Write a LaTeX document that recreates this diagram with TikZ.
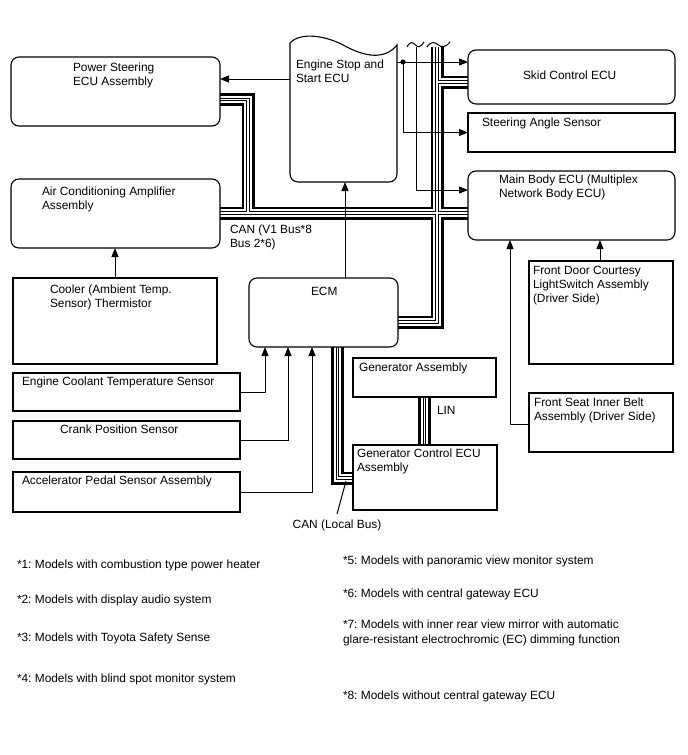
\documentclass[tikz,border=0pt]{standalone}
\usepackage{fontspec}
\setmainfont{Liberation Sans}
\usetikzlibrary{arrows.meta}
\pgfdeclarelayer{bg}
\pgfsetlayers{bg,main}
\frenchspacing
\tikzset{
 box/.style={draw, line width=1.1pt, fill=white, inner sep=0pt, outer sep=0pt, anchor=north west},
 rbox/.style={box, rounded corners=8pt},
 txt/.style={inner sep=0pt, outer sep=0pt, anchor=north west, align=left, font=\fontsize{11.9}{14}\selectfont},
 fn/.style={inner sep=0pt, outer sep=0pt, anchor=base west, font=\fontsize{11.9}{14.5}\selectfont},
 arr/.style={line width=1pt, -{Triangle[length=9pt,width=7pt]}},
 wire/.style={line width=1pt},
}
\begin{document}
\begin{tikzpicture}[x=1pt,y=-1pt]
\useasboundingbox (0,0) rectangle (688,755);

% boxes
\node[rbox, minimum width=209pt, minimum height=69pt] (ps) at (11,57) {};
\node[rbox, minimum width=209pt, minimum height=69pt] (ac) at (11,179) {};
\node[box, minimum width=204pt, minimum height=86pt] (cooler) at (13,278) {};
\node[inner sep=0pt, outer sep=0pt, minimum width=107pt, minimum height=140pt, anchor=north west] (ess) at (290,42) {};
\draw[line width=1.1pt, fill=white] (290,100) [rounded corners=8pt] -- (290,182) -- (397,182) -- (397,120) [sharp corners] -- (397,45)
  .. controls (385,60) and (365,57) .. (345,46) .. controls (325,35) and (300,32) .. (290,43) -- cycle;
\node[rbox, minimum width=149pt, minimum height=69pt] (ecm) at (249,278) {};
\node[rbox, minimum width=207pt, minimum height=54pt] (skid) at (468,50) {};
\node[box, minimum width=207pt, minimum height=39pt] (sas) at (468,113) {};
\node[rbox, minimum width=207pt, minimum height=69pt] (mb) at (468,171) {};
\node[box, minimum width=144pt, minimum height=103pt] (fd) at (529,261) {};
\node[box, minimum width=144pt, minimum height=59pt] (fs) at (529,393) {};
\node[box, minimum width=227pt, minimum height=38pt] (ect) at (13,373) {};
\node[box, minimum width=227pt, minimum height=38pt] (crank) at (13,421) {};
\node[box, minimum width=227pt, minimum height=40pt] (accel) at (13,472) {};
\node[box, minimum width=143pt, minimum height=39pt] (gen) at (353,358) {};
\node[box, minimum width=144pt, minimum height=65pt] (gcu) at (353,445) {};

% bus coordinates
\coordinate (hj) at (248,213);
\coordinate (mtop) at (437,47);
\coordinate (sk) at (437,82);

\begin{pgfonlayer}{bg}
\foreach \w/\c in {13/black,7.6/white,3.8/black,1.8/white}{
 \draw[line width=\w pt, draw=\c, line join=miter, line cap=butt]
   (ps.east |- 0,99.5) -| (hj)
   (ac.east |- hj) -- (mb.west |- hj)
   (mtop) |- (ecm.east |- 0,322)
   (sk) -- (skid.west |- sk)
   (ecm.south -| 337.5,0) |- (gcu.west |- 0,478)
   (gen.south -| 424.5,0) -- (gcu.north -| 424.5,0);
}
\end{pgfonlayer}

% break marks
\coordinate (brk) at (416,47);
\draw[wire] (407,47) .. controls (410,41) and (413,42) .. (415.5,45) .. controls (418,48) and (421,47) .. (424,42);
\draw[wire] (427,47) .. controls (431,41) and (435,42) .. (438.5,45) .. controls (442,48) and (446,47) .. (450,42);

% signal lines
\coordinate (dot) at (403,62);
\draw[arr] (ess.west |- 0,79) -- (ps.east |- 0,79);
\draw[wire] (ess.east |- dot) -- (dot);
\fill (dot) circle (2.6pt);
\draw[arr] (dot) -- (skid.west |- dot);
\draw[arr] (dot) |- (sas.west);
\draw[arr] (brk) |- (mb.west |- 0,190);
\draw[arr] (ecm.north -| 345,0) -- (ess.south -| 345,0);
\draw[arr] (cooler.north -| 115,0) -- (ac.south -| 115,0);
\draw[arr] (fd.north -| 600,0) -- (mb.south -| 600,0);
\draw[arr] (fs.west |- 0,424) -| (mb.south -| 510,0);
\draw[arr] (ect.east) -| (ecm.south -| 265,0);
\draw[arr] (crank.east) -| (ecm.south -| 288,0);
\draw[arr] (accel.east) -| (ecm.south -| 312,0);
\coordinate (ld1) at (346,481);
\coordinate (ld2) at (337,514);
\draw[wire] (ld1) -- (ld2);

% texts
\node[txt] (tps) at (73,62.5) {Power Steering\\ECU Assembly};
\node[txt] (tac) at (42,187) {Air Conditioning Amplifier\\Assembly};
\node[txt] (tco) at (50,285) {Cooler (Ambient Temp.\\Sensor) Thermistor};
\node[txt] (tess) at (296,59.5) {Engine Stop and\\Start ECU};
\node[txt] (tecm) at (311,287.5) {ECM};
\node[txt] (tsk) at (523,71) {Skid Control ECU};
\node[txt] (tsas) at (482,118) {Steering Angle Sensor};
\node[txt] (tmb) at (499,175) {Main Body ECU (Multiplex\\Network Body ECU)};
\node[txt] (tfd) at (533,266.5) {Front Door Courtesy\\LightSwitch Assembly\\(Driver Side)};
\node[txt] (tfs) at (534,398) {Front Seat Inner Belt\\Assembly (Driver Side)};
\node[txt] (tect) at (22,377) {Engine Coolant Temperature Sensor};
\node[txt] (tcr) at (60,425) {Crank Position Sensor};
\node[txt] (tacc) at (22,476) {Accelerator Pedal Sensor Assembly};
\node[txt] (tgen) at (359,362.5) {Generator Assembly};
\node[txt] (tgcu) at (357,448.5) {Generator Control ECU\\Assembly};
\node[txt] (tlin) at (437,406) {LIN};
\node[txt] (tcan) at (230,225) {CAN (V1 Bus*8\\Bus 2*6)};
\node[txt] (tcanl) at (292.7,520) {CAN (Local Bus)};

% footnotes
\node[fn] (f1) at (17,568) {*1: Models with combustion type power heater};
\node[fn] (f2) at (17,603) {*2: Models with display audio system};
\node[fn] (f3) at (17,641) {*3: Models with Toyota Safety Sense};
\node[fn] (f4) at (17,682) {*4: Models with blind spot monitor system};
\node[fn] (f5) at (343,564) {*5: Models with panoramic view monitor system};
\node[fn] (f6) at (343,597) {*6: Models with central gateway ECU};
\node[fn, anchor=north west, align=left] (f7) at (343,620) {*7: Models with inner rear view mirror with automatic\\glare-resistant electrochromic (EC) dimming function};
\node[fn] (f8) at (343,699) {*8: Models without central gateway ECU};
\end{tikzpicture}
\end{document}
